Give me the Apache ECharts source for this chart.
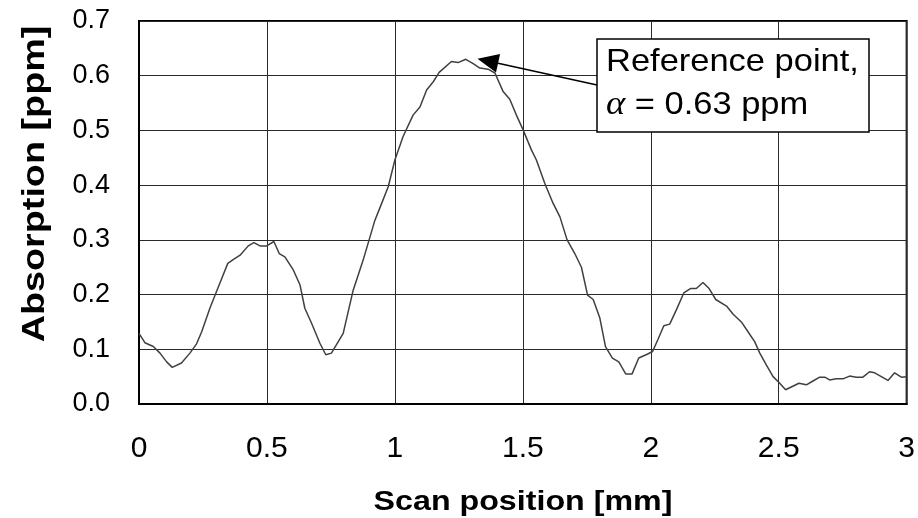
<!DOCTYPE html>
<html>
<head>
<meta charset="utf-8">
<script src="https://cdn.jsdelivr.net/npm/echarts@6/dist/echarts.min.js"></script>
<style>
  html, body { margin: 0; padding: 0; background: #fff; }
  #chart { width: 918px; height: 518px; }
</style>
</head>
<body>
<div id="chart"></div>
<script>
// Scan position along the sample [mm]
const scanPos = [
  0.000, 0.023, 0.056, 0.082, 0.108, 0.130, 0.166, 0.199, 0.225, 0.245,
  0.277, 0.310, 0.347, 0.368, 0.395, 0.427, 0.449, 0.473, 0.499, 0.527,
  0.548, 0.570, 0.603, 0.629, 0.648, 0.674, 0.707, 0.730, 0.752, 0.798,
  0.837, 0.876, 0.922, 0.941, 0.974, 1.000, 1.032, 1.071, 1.098, 1.124,
  1.150, 1.173, 1.221, 1.247, 1.277, 1.306, 1.332, 1.364, 1.391, 1.423,
  1.449, 1.475, 1.501, 1.534, 1.553, 1.586, 1.618, 1.645, 1.673, 1.703,
  1.729, 1.753, 1.775, 1.801, 1.823, 1.850, 1.875, 1.902, 1.927, 1.953,
  1.986, 2.007, 2.028, 2.051, 2.074, 2.100, 2.129, 2.155, 2.178, 2.204,
  2.228, 2.254, 2.296, 2.322, 2.354, 2.380, 2.406, 2.426, 2.452, 2.478,
  2.504, 2.527, 2.553, 2.579, 2.608, 2.634, 2.660, 2.680, 2.699, 2.725,
  2.751, 2.777, 2.803, 2.829, 2.855, 2.875, 2.901, 2.927, 2.953, 2.979,
  3.000
];

// Measured absorption [ppm]
const absorption = [
  0.129, 0.112, 0.105, 0.093, 0.077, 0.067, 0.075, 0.093, 0.110, 0.132,
  0.175, 0.214, 0.257, 0.264, 0.272, 0.289, 0.295, 0.289, 0.289, 0.297,
  0.275, 0.269, 0.245, 0.218, 0.175, 0.148, 0.111, 0.090, 0.093, 0.129,
  0.208, 0.263, 0.336, 0.358, 0.397, 0.446, 0.489, 0.528, 0.543, 0.574,
  0.589, 0.606, 0.626, 0.624, 0.630, 0.622, 0.614, 0.612, 0.605, 0.571,
  0.557, 0.528, 0.501, 0.464, 0.446, 0.403, 0.367, 0.342, 0.300, 0.275,
  0.250, 0.199, 0.191, 0.157, 0.105, 0.084, 0.077, 0.055, 0.055, 0.084,
  0.091, 0.096, 0.118, 0.143, 0.146, 0.172, 0.203, 0.211, 0.211, 0.222,
  0.211, 0.191, 0.179, 0.164, 0.150, 0.132, 0.114, 0.093, 0.071, 0.050,
  0.038, 0.026, 0.032, 0.038, 0.035, 0.042, 0.049, 0.049, 0.044, 0.046,
  0.046, 0.051, 0.049, 0.049, 0.059, 0.057, 0.050, 0.043, 0.057, 0.049,
  0.050
];

// Axis ranges and tick steps
const xRange = [0, 3];
const xStep = 0.5;
const yRange = [0, 0.7];
const yStep = 0.1;

// Annotation: where the arrow points and what the box says
const refPoint = [1.323, 0.631];
const refLine1 = 'Reference point,';
const refSymbol = 'α';
const refLine2 = ' = 0.63 ppm';
const xTitle = 'Scan position [mm]';
const yTitle = 'Absorption [ppm]';

const FONT = "'Liberation Sans', Arial, Helvetica, sans-serif";
const SERIF = "'Liberation Serif', 'DejaVu Serif', serif";

const chart = echarts.init(document.getElementById('chart'), null, { renderer: 'canvas' });

const seriesData = scanPos.map((x, i) => [x, absorption[i]]);

chart.setOption({
  animation: false,
  backgroundColor: '#ffffff',
  grid: {
    left: 139, right: 11, top: 21, bottom: 114,
    show: true, borderColor: '#000', borderWidth: 2, backgroundColor: 'transparent'
  },
  xAxis: {
    type: 'value',
    min: xRange[0], max: xRange[1], interval: xStep,
    axisLine: { show: true, onZero: false, lineStyle: { color: '#000', width: 2 } },
    axisTick: { show: false },
    splitLine: { show: true, lineStyle: { color: '#2a2a2a', width: 1 } },
    axisLabel: {
      color: '#000', fontFamily: FONT, fontSize: 30, margin: 30,
      showMinLabel: true, showMaxLabel: true,
      formatter: v => String(+v.toFixed(1))
    }
  },
  yAxis: {
    type: 'value',
    min: yRange[0], max: yRange[1], interval: yStep,
    axisLine: { show: true, lineStyle: { color: '#000', width: 2 } },
    axisTick: { show: false },
    splitLine: { show: true, lineStyle: { color: '#2a2a2a', width: 1 } },
    axisLabel: {
      color: '#000', fontFamily: FONT, fontSize: 27, margin: 29,
      formatter: v => v.toFixed(1)
    }
  },
  series: [{
    type: 'line',
    data: seriesData,
    showSymbol: false,
    symbol: 'none',
    lineStyle: { color: '#404040', width: 1.5 },
    z: 3
  }]
});

// Annotation box, arrow and axis titles
const tip = chart.convertToPixel({ xAxisIndex: 0, yAxisIndex: 0 }, refPoint);
const box = { x: 597, y: 39, w: 272, h: 93 };
const tail = [box.x, 85];
const dx = tail[0] - tip[0], dy = tail[1] - tip[1];
const len = Math.hypot(dx, dy);
const ux = dx / len, uy = dy / len;
const headL = 21, headW = 19;
const base = [tip[0] + ux * headL, tip[1] + uy * headL];
const nx = -uy, ny = ux;

chart.setOption({
  graphic: [
    {
      type: 'line', z: 100,
      shape: { x1: base[0], y1: base[1], x2: tail[0], y2: tail[1] },
      style: { stroke: '#000', lineWidth: 1.5 }
    },
    {
      type: 'polygon', z: 100,
      shape: { points: [
        tip,
        [base[0] + nx * headW / 2, base[1] + ny * headW / 2],
        [base[0] - nx * headW / 2, base[1] - ny * headW / 2]
      ] },
      style: { fill: '#000' }
    },
    {
      type: 'rect', z: 100,
      shape: { x: box.x, y: box.y, width: box.w, height: box.h },
      style: { fill: '#fff', stroke: '#000', lineWidth: 1.5 }
    },
    {
      type: 'text', z: 101, x: 606, y: 62, scaleX: 1.077,
      style: { text: refLine1, fill: '#000', font: '32px ' + FONT, align: 'left', verticalAlign: 'middle' }
    },
    {
      type: 'text', z: 101, x: 606, y: 105, scaleX: 1.077,
      style: {
        text: '{g|' + refSymbol + '}{t|' + refLine2 + '}',
        align: 'left', verticalAlign: 'middle',
        rich: {
          g: { fill: '#000', fontFamily: SERIF, fontSize: 34, fontStyle: 'italic' },
          t: { fill: '#000', fontFamily: FONT, fontSize: 32 }
        }
      }
    },
    {
      type: 'text', z: 101, x: 523, y: 502, scaleX: 1.15,
      style: { text: xTitle, fill: '#000', font: 'bold 28px ' + FONT, align: 'center', verticalAlign: 'middle' }
    },
    {
      type: 'text', z: 101, x: 35, y: 184, rotation: Math.PI / 2, scaleX: 1.18,
      style: { text: yTitle, fill: '#000', font: 'bold 32px ' + FONT, align: 'center', verticalAlign: 'middle' }
    }
  ]
});
</script>
</body>
</html>
